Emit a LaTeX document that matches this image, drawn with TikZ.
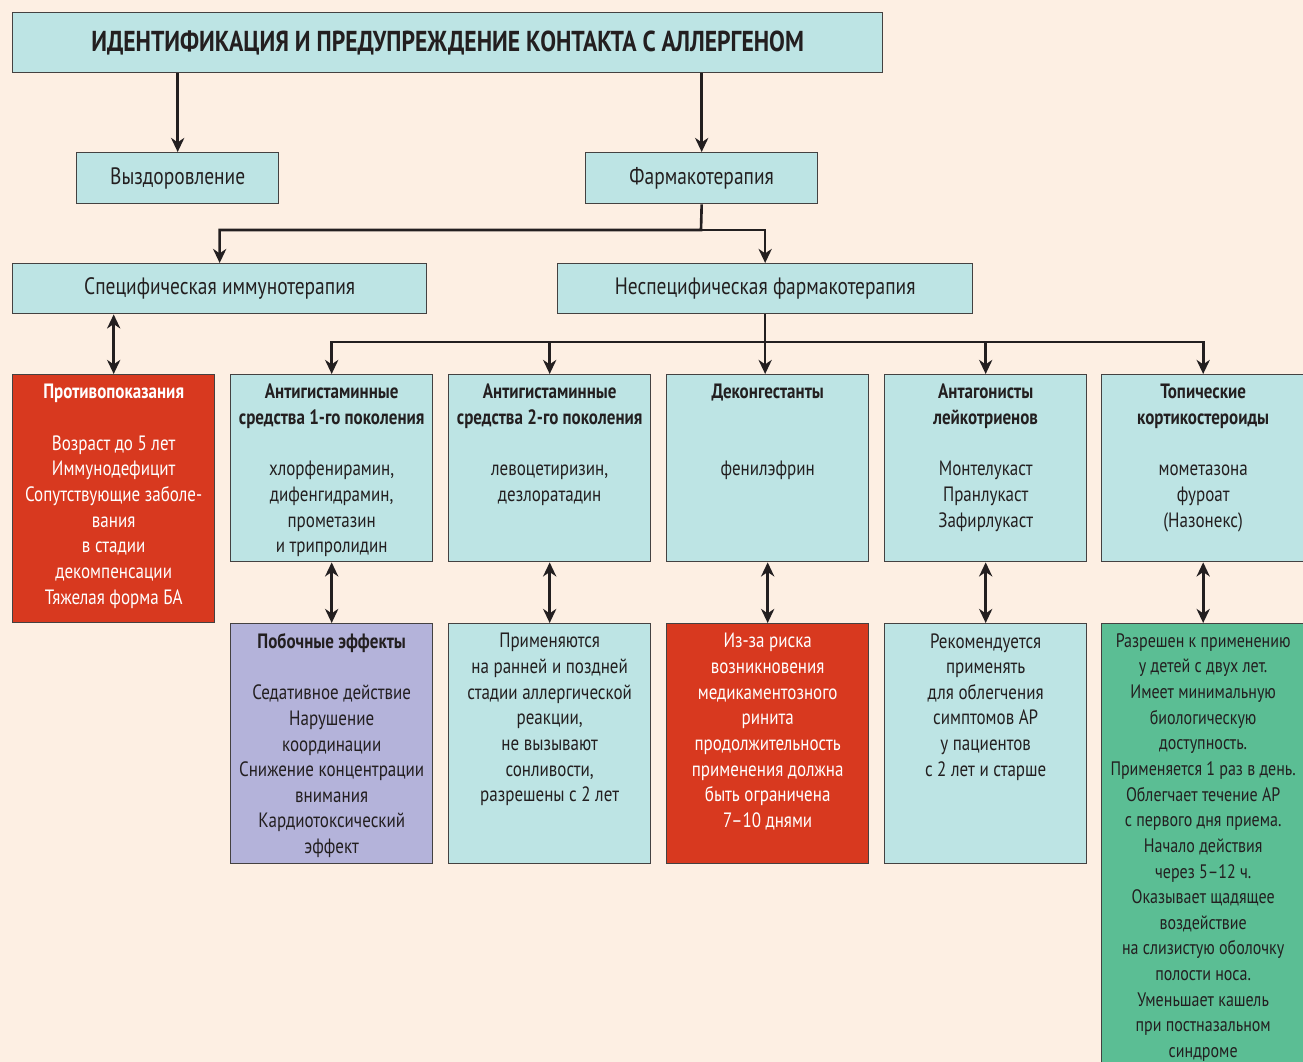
\documentclass[tikz,border=0pt]{standalone}
\usepackage{fontspec}
\setmainfont{PT Sans}[FakeStretch=0.82]
\usetikzlibrary{arrows.meta,positioning}
\definecolor{bgcol}{HTML}{FDEFE3}
\definecolor{boxcol}{HTML}{BDE4E4}
\definecolor{redcol}{HTML}{D8391F}
\definecolor{purcol}{HTML}{B4B3DA}
\definecolor{grncol}{HTML}{5BBE94}
\definecolor{inkcol}{HTML}{231F20}
\tikzset{
  box/.style={draw=inkcol!85, line width=0.8pt, fill=boxcol, anchor=north west, inner sep=0, text=inkcol},
  lvl/.style={font=\fontsize{13.5}{16}\selectfont},
  txt/.style={anchor=north, align=center, inner sep=0, yshift=-0.2cm, text=inkcol, font=\fontsize{11.8}{14.6}\selectfont},
  arr/.style={-{Stealth[length=8pt,width=7.5pt,inset=2.5pt]}, line width=1.5pt, draw=inkcol},
  dbl/.style={{Stealth[length=8pt,width=7.5pt,inset=2.5pt]}-{Stealth[length=8pt,width=7.5pt,inset=2.5pt]}, line width=1.5pt, draw=inkcol}
}

\begin{document}
\begin{tikzpicture}[x=0.02cm, y=-0.02cm]
    \fill[bgcol] (0,0) rectangle (1303,1062);
    \useasboundingbox (0,0) rectangle (1303,1062);
    \node[box, minimum width=17.4cm, minimum height=1.2cm, font=\bfseries\fontsize{16.4}{18}\selectfont] (top) at (12,12) {ИДЕНТИФИКАЦИЯ И ПРЕДУПРЕЖДЕНИЕ КОНТАКТА С АЛЛЕРГЕНОМ};
    \node[box, lvl, minimum width=4.04cm, minimum height=1.02cm] (recov) at (76,152) {Выздоровление};
    \node[box, lvl, minimum width=4.64cm, minimum height=1.02cm] (pharm) at (585,152) {Фармакотерапия};
    \node[box, lvl, minimum width=8.28cm, minimum height=1cm] (spec) at (12,263) {Специфическая иммунотерапия};
    \node[box, lvl, minimum width=8.3cm, minimum height=1cm] (nonspec) at (557,263) {Неспецифическая фармакотерапия};

    \node[box, fill=redcol, minimum width=4.04cm, minimum height=4.96cm] (contra) at (12,374) {};
    \node[box, minimum width=4.04cm, minimum height=3.74cm] (ahone) at (230,374) {};
    \node[box, minimum width=4.04cm, minimum height=3.74cm] (ahtwo) at (448,374) {};
    \node[box, minimum width=4.04cm, minimum height=3.74cm] (decong) at (666,374) {};
    \node[box, minimum width=4.04cm, minimum height=3.74cm] (leuko) at (884,374) {};
    \node[box, minimum width=4.06cm, minimum height=3.74cm] (topic) at (1101,374) {};

    \node[box, fill=purcol, minimum width=4.04cm, minimum height=4.8cm] (side) at (230,623) {};
    \node[box, minimum width=4.04cm, minimum height=4.8cm] (early) at (448,623) {};
    \node[box, fill=redcol, minimum width=4.04cm, minimum height=4.8cm] (risk) at (666,623) {};
    \node[box, minimum width=4.04cm, minimum height=4.8cm] (advice) at (884,623) {};
    \node[box, fill=grncol, minimum width=4.06cm, minimum height=9.0cm] (nasal) at (1101,623) {};

    \node[txt, text=white] (contrat) at (contra.north) {\textbf{Противопоказания}\\[14.6pt]
      Возраст до 5 лет\\Иммунодефицит\\Сопутствующие заболе-\\вания\\в стадии\\декомпенсации\\Тяжелая форма БА};
    \node[txt] (ahonet) at (ahone.north) {\textbf{Антигистаминные}\\\textbf{средства 1-го поколения}\\[14.6pt]
      хлорфенирамин,\\дифенгидрамин,\\прометазин\\и трипролидин};
    \node[txt] (ahtwot) at (ahtwo.north) {\textbf{Антигистаминные}\\\textbf{средства 2-го поколения}\\[14.6pt]
      левоцетиризин,\\дезлоратадин};
    \node[txt] (decongt) at (decong.north) {\textbf{Деконгестанты}\\[14.6pt]\\фенилэфрин};
    \node[txt] (leukot) at (leuko.north) {\textbf{Антагонисты}\\\textbf{лейкотриенов}\\[14.6pt]
      Монтелукаст\\Пранлукаст\\Зафирлукаст};
    \node[txt] (topict) at (topic.north) {\textbf{Топические}\\\textbf{кортикостероиды}\\[14.6pt]
      мометазона\\фуроат\\(Назонекс)};

    \node[txt] (sidet) at (side.north) {\textbf{Побочные эффекты}\\[14.6pt]
      Седативное действие\\Нарушение\\координации\\Снижение концентрации\\внимания\\Кардиотоксический\\эффект};
    \node[txt] (earlyt) at (early.north) {Применяются\\на ранней и поздней\\стадии аллергической\\реакции,\\не вызывают\\сонливости,\\разрешены с 2 лет};
    \node[txt, text=white] (riskt) at (risk.north) {Из-за риска\\возникновения\\медикаментозного\\ринита\\продолжительность\\применения должна\\быть ограничена\\7–10 днями};
    \node[txt] (advicet) at (advice.north) {Рекомендуется\\применять\\для облегчения\\симптомов АР\\у пациентов\\с 2 лет и старше};
    \node[txt, font=\fontsize{11.1}{14.6}\selectfont] (nasalt) at (nasal.north) {Разрешен к применению\\у детей с двух лет.\\Имеет минимальную\\биологическую\\доступность.\\Применяется 1 раз в день.\\Облегчает течение АР\\с первого дня приема.\\Начало действия\\через 5–12 ч.\\Оказывает щадящее\\воздействие\\на слизистую оболочку\\полости носа.\\Уменьшает кашель\\при постназальном\\синдроме};

    \coordinate (forkone) at (701,230);
    \coordinate (forktwo) at (765,342);
    \draw[arr] (top.south -| recov.north) -- (recov.north);
    \draw[arr] (top.south -| pharm.north) -- (pharm.north);
    \draw[arr] (pharm.south) -- (forkone) -| (spec.north);
    \draw[arr] (forkone) -| (nonspec.north);
    \draw[arr] (nonspec.south) -- (nonspec.south |- decong.north);
    \foreach \b in {ahone,ahtwo,leuko,topic}
      \draw[arr] (nonspec.south |- forktwo) -| (\b.north);
    \draw[dbl] (spec.south -| contra.north) -- (contra.north);
    \foreach \a/\b in {ahone/side,ahtwo/early,decong/risk,leuko/advice,topic/nasal}
      \draw[dbl] (\a.south) -- (\b.north);
\end{tikzpicture}
\end{document}
